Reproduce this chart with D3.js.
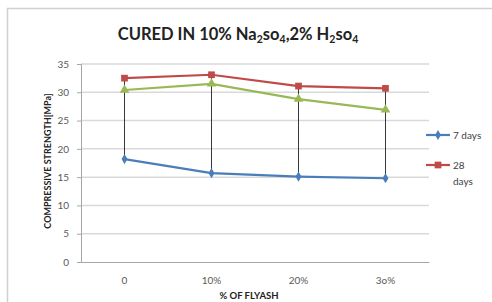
<!DOCTYPE html>
<head>
  <meta charset="utf-8">
  <script src="https://d3js.org/d3.v7.min.js"></script>
  <style>
    body { margin:0; background:#fff; }
    text { font-family: Lato, "Open Sans", sans-serif; }
  </style>
</head>
<body>
  <script>
    var categories = ['0', '10%', '20%', '3o%'];
    var days7 = [18.2, 15.7, 15.1, 14.8];
    var days28 = [32.5, 33.1, 31.1, 30.7];
    var days56 = [30.4, 31.5, 28.8, 26.9];
    var yTicks = [0, 5, 10, 15, 20, 25, 30, 35];

    var width = 492, height = 302;
    var plotLeft = 81, plotRight = 429, plotTop = 64, plotBottom = 262;

    var svg = d3.select('body').append('svg')
      .attr('width', width)
      .attr('height', height);

    // chart border
    svg.append('rect')
      .attr('x', 7.5).attr('y', 8.5)
      .attr('width', 500).attr('height', 310)
      .attr('fill', '#fff')
      .attr('stroke', '#d0d0d0')
      .attr('stroke-width', 1.5);

    var x = d3.scaleBand().domain(categories).range([plotLeft, plotRight]);
    var y = d3.scaleLinear().domain([0, 35]).range([plotBottom, plotTop]);

    // gridlines
    svg.append('g').selectAll('line')
      .data(yTicks.slice(1))
      .enter().append('line')
      .attr('x1', plotLeft).attr('x2', plotRight)
      .attr('y1', function(d) { return y(d); })
      .attr('y2', function(d) { return y(d); })
      .attr('stroke', '#d9d9d9')
      .attr('stroke-width', 1.5);

    var yAxis = svg.append('g')
      .attr('transform', 'translate(' + plotLeft + ',0)')
      .call(d3.axisLeft(y).tickValues(yTicks).tickSize(4).tickPadding(8));
    yAxis.select('.domain').attr('stroke', '#a6a6a6');
    yAxis.selectAll('line').attr('stroke', '#a6a6a6');
    yAxis.selectAll('text').attr('fill', '#595959').style('font-size', '10px');

    var xAxis = svg.append('g')
      .attr('transform', 'translate(0,' + plotBottom + ')')
      .call(d3.axisBottom(x).tickSize(0).tickPadding(15));
    xAxis.select('.domain').attr('stroke', '#a6a6a6');
    xAxis.selectAll('text').attr('fill', '#595959').style('font-size', '10px');

    // drop lines from high to low
    svg.append('g').selectAll('line')
      .data(categories)
      .enter().append('line')
      .attr('x1', function(d) { return x(d) + x.bandwidth() / 2; })
      .attr('x2', function(d) { return x(d) + x.bandwidth() / 2; })
      .attr('y1', function(d, i) { return y(Math.max(days7[i], days28[i], days56[i])); })
      .attr('y2', function(d, i) { return y(Math.min(days7[i], days28[i], days56[i])); })
      .attr('stroke', '#222')
      .attr('stroke-width', 0.9);

    var series = [
      {name: '7 days', values: days7, color: '#4a7ebb', symbol: d3.symbolDiamond, size: 30},
      {name: '28 days', values: days28, color: '#be4b48', symbol: d3.symbolSquare, size: 45},
      {name: '56 days', values: days56, color: '#98b954', symbol: d3.symbolTriangle, size: 40}
    ];

    var line = d3.line()
      .x(function(d, i) { return x(categories[i]) + x.bandwidth() / 2; })
      .y(function(d) { return y(d); });

    series.forEach(function(s) {
      svg.append('path')
        .attr('d', line(s.values))
        .attr('fill', 'none')
        .attr('stroke', s.color)
        .attr('stroke-width', 2.2);
      svg.append('g').selectAll('path')
        .data(s.values)
        .enter().append('path')
        .attr('d', d3.symbol().type(s.symbol).size(s.size))
        .attr('transform', function(d, i) {
          return 'translate(' + (x(categories[i]) + x.bandwidth() / 2) + ',' + y(d) + ')';
        })
        .attr('fill', s.color);
    });

    // legend (only two entries shown)
    var legend = svg.append('g');
    [0, 1].forEach(function(k, j) {
      var s = series[k];
      var ly = 135 + j * 30;
      legend.append('line')
        .attr('x1', 426).attr('x2', 450)
        .attr('y1', ly).attr('y2', ly)
        .attr('stroke', s.color).attr('stroke-width', 2.2);
      legend.append('path')
        .attr('d', d3.symbol().type(s.symbol).size(s.size))
        .attr('transform', 'translate(438,' + ly + ')')
        .attr('fill', s.color);
      var words = s.name.split(' ');
      var t = legend.append('text')
        .attr('x', 453).attr('y', ly + 3.5)
        .attr('fill', '#404040')
        .style('font-size', '10px');
      if (k === 0) {
        t.text(s.name);
      } else {
        t.append('tspan').attr('x', 453).text(words[0]);
        t.append('tspan').attr('x', 453).attr('dy', 16).text(words[1]);
      }
    });

    // title with subscripts
    var title = svg.append('text')
      .attr('x', 238).attr('y', 40)
      .attr('text-anchor', 'middle')
      .style('font-size', '16.5px')
      .style('font-weight', 'bold')
      .attr('fill', '#222');
    title.append('tspan').text('CURED IN 10% Na');
    title.append('tspan').attr('dy', 3).style('font-size', '10.5px').text('2');
    title.append('tspan').attr('dy', -3).text('so');
    title.append('tspan').attr('dy', 3).style('font-size', '10.5px').text('4');
    title.append('tspan').attr('dy', -3).text(',2% H');
    title.append('tspan').attr('dy', 3).style('font-size', '10.5px').text('2');
    title.append('tspan').attr('dy', -3).text('so');
    title.append('tspan').attr('dy', 3).style('font-size', '10.5px').text('4');

    svg.append('text')
      .attr('transform', 'translate(51,' + ((plotTop + plotBottom) / 2 - 2) + ') rotate(-90)')
      .attr('text-anchor', 'middle')
      .style('font-size', '9px')
      .style('font-weight', 'bold')
      .attr('fill', '#222')
      .text('COMPRESSIVE STRENGTH[MPa]');

    svg.append('text')
      .attr('x', 249).attr('y', 299)
      .attr('text-anchor', 'middle')
      .style('font-size', '9.5px')
      .style('font-weight', 'bold')
      .attr('fill', '#222')
      .text('% OF FLYASH');
  </script>
</body>
